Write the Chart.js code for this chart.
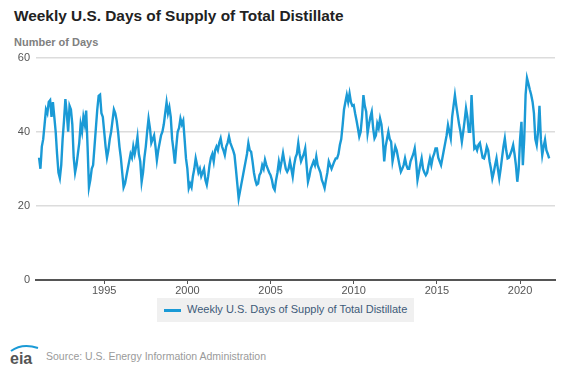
<!DOCTYPE html>
<html>
<head>
<meta charset="utf-8">
<script src="https://cdn.jsdelivr.net/npm/chart.js@4.4.1/dist/chart.umd.min.js"></script>
<style>
  body { margin: 0; background: #fff; font-family: "Liberation Sans", Arial, sans-serif; }
  #wrap { position: relative; width: 570px; height: 377px; overflow: hidden; }
  #title { position: absolute; left: 14px; top: 7px; font-size: 15.4px; font-weight: bold; color: #222; }
  #ytitle { position: absolute; left: 14px; top: 36px; font-size: 11px; font-weight: bold; color: #808080; }
  #chartBox { position: absolute; left: 0; top: 45px; width: 570px; height: 259px; }
  #legend { position: absolute; left: 157px; top: 298px; width: 257px; height: 24px; background: #f0f0f0; }
  #legend .sw { position: absolute; left: 7px; top: 11px; width: 17px; height: 3px; background: #1a9ad6; }
  #legend .tx { position: absolute; left: 30px; top: 5px; font-size: 11px; color: #3d5a78; white-space: nowrap; }
  #logo { position: absolute; left: 8px; top: 342px; }
  #source { position: absolute; left: 46px; top: 350px; font-size: 10.5px; color: #9a9a9a; }
</style>
</head>
<body>
<div id="wrap">
  <div id="title">Weekly U.S. Days of Supply of Total Distillate</div>
  <div id="ytitle">Number of Days</div>
  <div id="chartBox"><canvas id="c" width="570" height="259"></canvas></div>
  <div id="legend"><div class="sw"></div><div class="tx">Weekly U.S. Days of Supply of Total Distillate</div></div>
  <svg id="logo" width="34" height="26" viewBox="0 0 34 26">
    <path d="M3 9 Q14 1 30 6" stroke="#1a9ad6" stroke-width="2" fill="none"/>
    <text x="2" y="22" font-family="Liberation Sans, Arial" font-size="16" font-weight="bold" fill="#555">eia</text>
  </svg>
  <div id="source">Source: U.S. Energy Information Administration</div>
</div>
<script>
// monthly readings, series starts Feb 1991
const startYear = 1991;
const startMonth = 1; // 0 = Jan

const days1990s = [
  33, 30, 36, 38, 42, 46, 45, 48, 48.5, 44, 48,
  44, 40, 34, 29, 27.5, 31, 38, 43, 48.8, 45, 40, 47,
  46, 42, 33, 29, 31, 34, 37, 42, 40, 44, 42, 45.7,
  36, 25, 27, 30, 31, 36, 41, 46, 49.7, 50, 45, 44,
  40, 36, 33, 35, 38, 40, 43, 46, 45, 43, 40, 36,
  33, 29, 25, 26, 28, 30, 32, 34, 33, 36, 34, 36,
  38.6, 34, 32, 26.5, 29, 33, 36, 40, 43.5, 41, 37, 38,
  39, 36, 32.3, 35, 37, 39, 40, 42, 45, 47.9, 45, 46.6,
  44, 38, 35, 31.4, 36, 40, 41, 43.5, 42, 43, 38, 32.8
];
const days2000s = [
  30, 24.8, 26, 25, 28, 30, 32.8, 31, 29, 30, 28, 29,
  30, 27, 25.7, 28, 31, 33, 34, 32, 35, 36, 35, 37,
  38.2, 36, 35, 33.7, 36, 37, 38.7, 37, 36, 35, 33.7, 30,
  26, 22, 24, 26, 28, 30, 32, 34, 36.9, 35, 34.6, 32,
  29, 27, 25.7, 26, 28.3, 29, 31, 30, 32.4, 31, 30, 29,
  28.3, 27, 25, 24.3, 27, 29, 31.9, 30, 32, 34.2, 32, 30,
  29.2, 30, 32, 30, 27.9, 31, 33, 34, 36.9, 34, 32, 33,
  34, 35.5, 31, 26.5, 28, 30, 31, 32, 31, 33.3, 31, 30,
  29, 27, 26, 24.8, 27, 29, 32, 31, 30, 31, 32, 32.8,
  32.8, 34, 36.4, 38, 41.8, 46, 48, 49.9, 48, 50.3, 48, 47
];
const days2010s = [
  47.2, 45, 43.1, 41, 38.7, 40, 44, 49.9, 47, 45.4, 39.6, 42,
  44, 45.4, 41, 38.2, 39, 42.2, 41, 43.6, 42, 38, 32, 36,
  38, 40, 38, 37.3, 32, 34, 36, 35, 33, 31, 29.2, 30,
  31, 32.8, 31, 30, 30, 32, 33, 34, 35.5, 32, 27, 29,
  31, 32.8, 30, 29, 28.3, 29, 31, 32.8, 31, 33, 34, 35.5,
  35.5, 33, 32, 31, 33, 35, 37, 39, 41.8, 40, 38.2, 44,
  47, 49.9, 47, 44.5, 42, 40, 37.3, 40, 43, 46.3, 44, 40,
  40, 49.9, 42, 35.5, 36, 35, 36.5, 37, 35, 33, 32.8, 34,
  36, 35, 32, 30, 27.4, 29, 31, 32.8, 30, 27.4, 30, 33,
  36, 38.2, 35, 32.8, 33, 34, 35, 36.4, 34, 31, 26.5, 30
];
const days2020s = [
  38, 42.7, 31, 38, 50, 54.5, 53, 51.4, 50, 48.1, 45, 38,
  36.4, 40, 47, 38, 33.7, 36, 37.8, 35, 34, 32.8
];

const xTicks = [1995, 2000, 2005, 2010, 2015, 2020];
const yTicks = [0, 20, 40, 60];
const seriesName = 'Weekly U.S. Days of Supply of Total Distillate';

const allDays = days1990s.concat(days2000s, days2010s, days2020s);
const points = allDays.map((v, i) => ({ x: startYear + (startMonth + i) / 12, y: v }));

new Chart(document.getElementById('c'), {
  type: 'line',
  data: {
    datasets: [{
      label: seriesName,
      data: points,
      borderColor: '#1a9ad6',
      borderWidth: 2.4,
      pointRadius: 0,
      tension: 0,
      fill: false
    }]
  },
  options: {
    responsive: false,
    animation: false,
    layout: { padding: { top: 6, right: 15, left: 0, bottom: 0 } },
    plugins: { legend: { display: false }, tooltip: { enabled: false } },
    scales: {
      x: {
        type: 'linear',
        min: 1990.9,
        max: 2022.1,
        afterBuildTicks: s => { s.ticks = xTicks.map(v => ({ value: v })); },
        afterFit: s => { s.height = 24; },
        grid: { drawOnChartArea: false, drawTicks: true, tickLength: 4, color: '#555' },
        border: { color: '#555', width: 2 },
        ticks: { color: '#555', font: { family: 'Liberation Sans', size: 11 }, padding: 0, maxRotation: 0, callback: v => String(v) }
      },
      y: {
        min: 0,
        max: 60,
        afterBuildTicks: s => { s.ticks = yTicks.map(v => ({ value: v })); },
        afterFit: s => { s.width = 36; },
        grid: { color: '#dcdcdc', drawTicks: false, lineWidth: 1.5 },
        border: { display: false },
        ticks: { color: '#555', font: { family: 'Liberation Sans', size: 11 }, padding: 6 }
      }
    }
  }
});
</script>
</body>
</html>
